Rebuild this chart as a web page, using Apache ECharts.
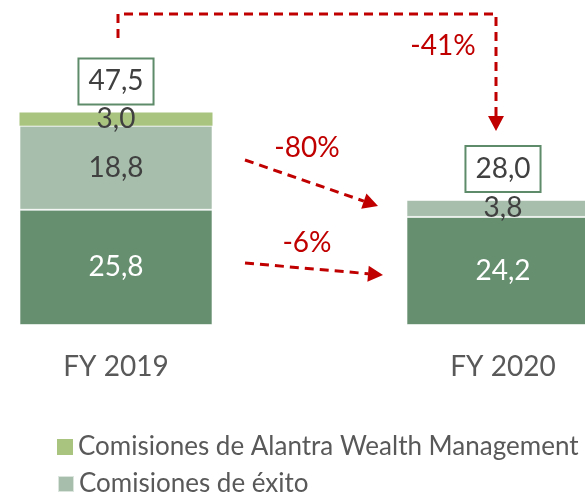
<!DOCTYPE html>
<html>
<head>
<meta charset="utf-8">
<script src="https://cdn.jsdelivr.net/npm/echarts@6/dist/echarts.min.js"></script>
<style>
  html, body { margin: 0; padding: 0; background: #fff; }
  #main { width: 585px; height: 492px; }
</style>
</head>
<body>
<div id="main"></div>
<script>
// datos (millones de euros)
const categories = ['FY 2019', 'FY 2020'];
const gestion = [25.8, 24.2];   // barra inferior, verde oscuro
const exito = [18.8, 3.8];      // Comisiones de éxito
const wealth = [3.0, 0];        // Comisiones de Alantra Wealth Management
const totals = [47.5, 28.0];
const changes = ['-80%', '-6%', '-41%'];

const FONT = 'Lato';
const RED = '#C00000';

// 25.8 -> "25,8"
const fmt = v => v.toFixed(1).replace('.', ',');

let myChart = echarts.init(document.getElementById('main'));

// flecha discontinua con punta
const arrow = (x1, y1, x2, y2) => {
    let dx = x2 - x1, dy = y2 - y1;
    let len = Math.sqrt(dx * dx + dy * dy);
    let ux = dx / len, uy = dy / len;
    let hl = 15, hw = 8;
    let bx = x2 - ux * hl, by = y2 - uy * hl;
    return [
        {
            type: 'line',
            shape: { x1: x1, y1: y1, x2: bx, y2: by },
            style: { stroke: RED, lineWidth: 3, lineDash: [9, 6] }
        },
        {
            type: 'polygon',
            shape: { points: [[x2, y2], [bx - uy * hw, by + ux * hw], [bx + uy * hw, by - ux * hw]] },
            style: { fill: RED }
        }
    ];
};

const pctText = (x, y, text) => ({
    type: 'text',
    x: x,
    y: y,
    style: { text: text, fill: RED, font: '28px ' + FONT, align: 'center', verticalAlign: 'middle' }
});

// una leyenda por fila, para que no se reparta en columnas
const legendRow = (name, top) => ({
    left: 52,
    top: top,
    itemWidth: 16,
    itemHeight: 16,
    icon: 'rect',
    data: [name],
    textStyle: { fontSize: 26, color: '#595959', fontFamily: FONT }
});

myChart.setOption({
    animation: false,
    textStyle: { fontFamily: FONT },
    grid: {
        left: 116,
        right: 82,
        top: 57,
        bottom: 167
    },
    legend: [
        legendRow('Comisiones de Alantra Wealth Management', 429),
        legendRow('Comisiones de éxito', 466)
    ],
    xAxis: {
        type: 'category',
        data: categories,
        boundaryGap: false,
        axisLine: { show: false },
        axisTick: { show: false },
        axisLabel: { margin: 28, fontSize: 28, color: '#595959', fontFamily: FONT }
    },
    yAxis: {
        type: 'value',
        min: 0,
        max: 60,
        show: false
    },
    series: [
        {
            name: 'Comisiones de gestión',
            type: 'bar',
            stack: 'total',
            barWidth: 193,
            clip: false,
            data: gestion,
            itemStyle: { color: '#668F70', borderColor: 'rgba(255,255,255,0.6)', borderWidth: 1 },
            label: {
                show: true,
                position: 'inside',
                color: '#fff',
                fontSize: 28,
                formatter: p => fmt(p.value)
            }
        },
        {
            name: 'Comisiones de éxito',
            type: 'bar',
            stack: 'total',
            clip: false,
            data: exito,
            itemStyle: { color: '#A6BEAB', borderColor: 'rgba(255,255,255,0.6)', borderWidth: 1 },
            label: {
                show: true,
                position: 'inside',
                color: '#404040',
                fontSize: 28,
                formatter: p => fmt(p.value)
            }
        },
        {
            name: 'Comisiones de Alantra Wealth Management',
            type: 'bar',
            stack: 'total',
            clip: false,
            data: wealth,
            itemStyle: { color: '#A9C47F' },
            label: {
                show: true,
                position: 'inside',
                color: '#404040',
                fontSize: 28,
                formatter: p => p.value ? fmt(p.value) : ''
            }
        },
        {
            // caja con el total encima de cada barra
            name: 'Total',
            type: 'bar',
            stack: 'total',
            clip: false,
            data: totals.map(() => 0),
            itemStyle: { color: 'transparent' },
            label: {
                show: true,
                position: 'top',
                distance: 9,
                color: '#404040',
                fontSize: 28,
                lineHeight: 30,
                backgroundColor: '#fff',
                borderColor: '#5E8C6A',
                borderWidth: 2,
                padding: [7, 9, 7, 9],
                formatter: p => fmt(totals[p.dataIndex])
            }
        }
    ]
});

// flechas y variaciones
let graphics = [];
graphics = graphics.concat(arrow(245, 160, 378, 206));
graphics = graphics.concat(arrow(245, 263, 383, 275));
graphics.push({
    type: 'polyline',
    shape: { points: [[118, 38], [118, 14], [496, 14], [496, 116]] },
    style: { stroke: RED, lineWidth: 3, lineDash: [9, 6], fill: null }
});
graphics.push({
    type: 'polygon',
    shape: { points: [[488, 116], [504, 116], [496, 131]] },
    style: { fill: RED }
});
graphics.push(pctText(307, 148, changes[0]));
graphics.push(pctText(307, 243, changes[1]));
graphics.push(pctText(443, 46, changes[2]));

myChart.setOption({ graphic: graphics });
</script>
</body>
</html>
